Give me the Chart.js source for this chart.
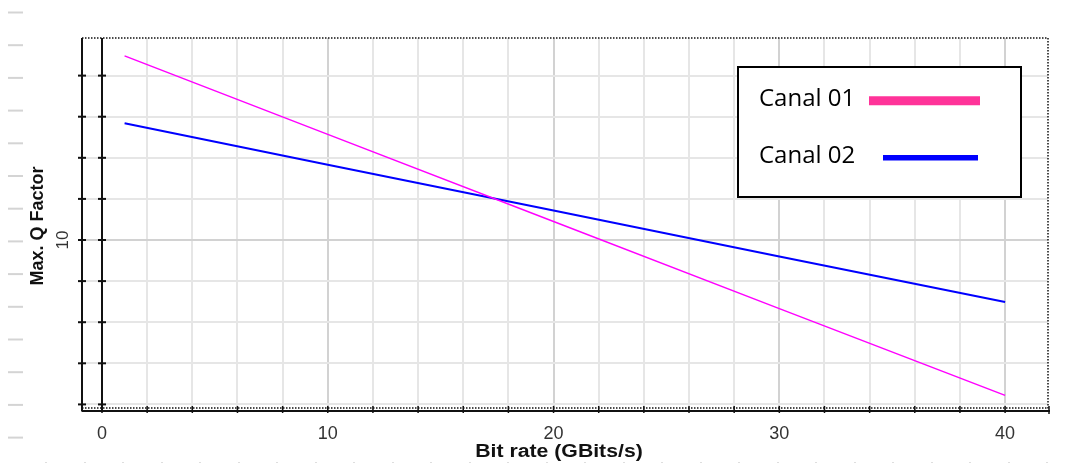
<!DOCTYPE html>
<html><head><meta charset="utf-8">
<script src="https://cdn.jsdelivr.net/npm/chart.js@4"></script>
<style>html,body{margin:0;padding:0;background:#fff;overflow:hidden}canvas{display:block}</style>
</head><body>
<canvas id="c" width="1076" height="465"></canvas>
<script>
// ---- data ----
const bitRates = [1, 10, 20, 30, 40];
const canal01 = [14.48, 12.57, 10.45, 8.33, 6.22];
const canal02 = [12.84, 11.83, 10.72, 9.60, 8.49];
const seriesLabels = ['Canal 01', 'Canal 02'];
const xTickLabels = [0, 10, 20, 30, 40];
const xGridValues = [0, 2, 4, 6, 8, 10, 12, 14, 16, 18, 20, 22, 24, 26, 28, 30, 32, 34, 36, 38, 40];
const yGridValues = [6, 7, 8, 9, 10, 11, 12, 13, 14];
const yTickLabels = [10];
const xTitle = 'Bit rate (GBits/s)';
const yTitle = 'Max. Q Factor';

// ---- styles ----
const FONT = "'Liberation Sans', Arial, sans-serif";
const lineColors = ['#ff00ff', '#0000ff'];
const legendColors = ['#ff3399', '#0000ff'];

Chart.defaults.font.family = FONT;

const gridColor = (ctx) => (ctx.tick && ctx.tick.value % 10 === 0) ? '#d2d2d2' : '#e6e6e6';

function seg(ctx, x1, y1, x2, y2) { ctx.beginPath(); ctx.moveTo(x1, y1); ctx.lineTo(x2, y2); ctx.stroke(); }

const decor = {
  id: 'decor',
  beforeDraw(chart) {
    const ctx = chart.ctx;
    ctx.save();
    // faint screenshot artefacts on left edge and bottom edge
    ctx.strokeStyle = '#d4d4d4'; ctx.lineWidth = 2;
    for (let i = 0; i < 14; i++) { const y = 12.5 + i * 32.7; seg(ctx, 8, y, 23, y); }
    ctx.fillStyle = '#dedede';
    for (let x = 45; x < 1070; x += 38.5) ctx.fillRect(Math.round(x), 462, 2, 1);
    ctx.restore();
  },
  beforeDatasetsDraw(chart) {
    const ctx = chart.ctx;
    const { left, right, top, bottom } = chart.chartArea;
    const xs = chart.scales.x, ys = chart.scales.y;
    const x0 = xs.getPixelForValue(0);
    ctx.save();
    ctx.strokeStyle = '#111';
    // dotted frame
    ctx.lineWidth = 1.5; ctx.setLineDash([1.5, 1.5]);
    seg(ctx, left, top, right, top);
    seg(ctx, right, top, right, bottom);
    seg(ctx, left, bottom - 2, right, bottom - 2);
    ctx.setLineDash([]);
    ctx.lineWidth = 2;
    seg(ctx, left, top, left, bottom + 1.5);
    seg(ctx, x0, top, x0, bottom + 1.5);
    seg(ctx, left, bottom + 1, right + 2, bottom + 1);
    // y ticks on both vertical axes
    for (const v of yGridValues) {
      const y = ys.getPixelForValue(v);
      seg(ctx, left - 4, y, left + 4, y);
      seg(ctx, x0 - 4, y, x0 + 4, y);
    }
    // x ticks
    ctx.lineWidth = 1.5;
    for (const v of xGridValues) {
      const x = xs.getPixelForValue(v);
      seg(ctx, x, bottom - 4, x, bottom + 3);
    }
    seg(ctx, right + 1, bottom - 4, right + 1, bottom + 4);
    // y tick label(s), rotated
    ctx.fillStyle = '#333';
    ctx.font = '17px ' + FONT;
    ctx.textAlign = 'center'; ctx.textBaseline = 'middle';
    for (const v of yTickLabels) {
      ctx.save();
      ctx.translate(63, ys.getPixelForValue(v));
      ctx.rotate(-Math.PI / 2);
      ctx.fillText(String(v), 0, 0);
      ctx.restore();
    }
    // axis titles
    ctx.fillStyle = '#111';
    ctx.font = 'bold 18px ' + FONT;
    ctx.save();
    ctx.translate(38, (top + bottom) / 2 + 2);
    ctx.rotate(-Math.PI / 2);
    ctx.fillText(yTitle, 0, 0);
    ctx.restore();
    ctx.save();
    ctx.translate(559, 452);
    ctx.scale(1.18, 1);
    ctx.fillText(xTitle, 0, 0);
    ctx.restore();
    ctx.restore();
  },
  afterDraw(chart) {
    const ctx = chart.ctx;
    ctx.save();
    // legend box
    ctx.fillStyle = '#fff';
    ctx.fillRect(738, 67, 283, 130);
    ctx.strokeStyle = '#000'; ctx.lineWidth = 2;
    ctx.strokeRect(738, 67, 283, 130);
    ctx.fillStyle = '#000';
    ctx.font = "24px 'Open Sans', sans-serif";
    ctx.textAlign = 'left'; ctx.textBaseline = 'alphabetic';
    const ds = chart.data.datasets;
    ctx.fillText(ds[0].label, 759, 105.5);
    ctx.fillText(ds[1].label, 759, 162.5);
    ctx.lineCap = 'butt';
    ctx.strokeStyle = legendColors[0]; ctx.lineWidth = 9;
    seg(ctx, 869, 100.7, 980, 100.7);
    ctx.strokeStyle = legendColors[1]; ctx.lineWidth = 5.5;
    seg(ctx, 883, 157.7, 978, 157.7);
    ctx.restore();
  }
};

new Chart(document.getElementById('c'), {
  type: 'line',
  data: {
    datasets: [
      { label: seriesLabels[0], data: bitRates.map((x, i) => ({ x, y: canal01[i] })),
        borderColor: lineColors[0], borderWidth: 1.5, pointRadius: 0, tension: 0, fill: false },
      { label: seriesLabels[1], data: bitRates.map((x, i) => ({ x, y: canal02[i] })),
        borderColor: lineColors[1], borderWidth: 2, pointRadius: 0, tension: 0, fill: false }
    ]
  },
  options: {
    responsive: false,
    animation: false,
    events: [],
    layout: { padding: { top: 38, right: 28, left: 0, bottom: 0 } },
    plugins: { legend: { display: false }, tooltip: { enabled: false }, title: { display: false } },
    scales: {
      x: {
        type: 'linear', min: -0.886, max: 41.9,
        afterBuildTicks: (s) => { s.ticks = xGridValues.map(v => ({ value: v })); },
        afterFit: (s) => { s.height = 55; },
        border: { display: false },
        grid: { color: gridColor, lineWidth: 2, drawTicks: false },
        ticks: {
          autoSkip: false, maxRotation: 0, minRotation: 0, padding: 13,
          color: '#333', font: { size: 18, family: FONT },
          callback: (v) => xTickLabels.includes(v) ? String(v) : ''
        }
      },
      y: {
        type: 'linear', min: 5.864, max: 14.915,
        afterBuildTicks: (s) => { s.ticks = yGridValues.map(v => ({ value: v })); },
        afterFit: (s) => { s.width = 82; },
        border: { display: false },
        grid: { color: gridColor, lineWidth: 2, drawTicks: false },
        ticks: { display: false }
      }
    }
  },
  plugins: [decor]
});
</script>
</body></html>
